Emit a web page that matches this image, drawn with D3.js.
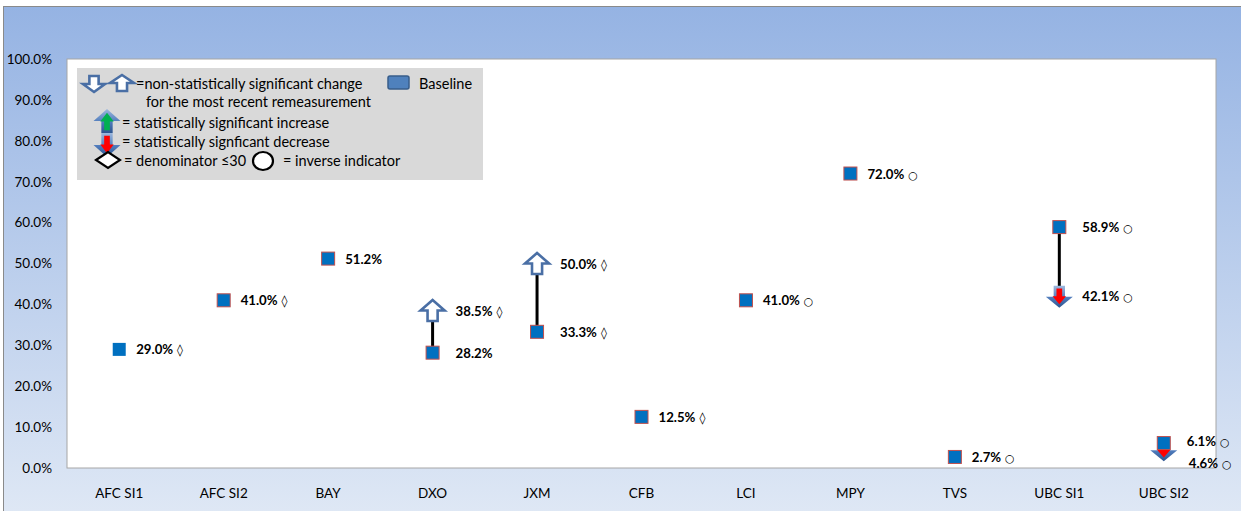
<!DOCTYPE html>
<html>
<head>
<meta charset="utf-8">
<script src="https://cdn.jsdelivr.net/npm/d3@7"></script>
<style>
  body { margin: 0; background: #fff; }
  svg { display: block; font-family: Lato, "Liberation Sans", sans-serif; }
</style>
</head>
<body>
<svg id="chart" width="1241" height="511"></svg>
<script>
// chart values
const categories = ['AFC SI1', 'AFC SI2', 'BAY', 'DXO', 'JXM', 'CFB', 'LCI', 'MPY', 'TVS', 'UBC SI1', 'UBC SI2'];
const baseline = [29.0, 41.0, 51.2, 28.2, 33.3, 12.5, 41.0, 72.0, 2.7, 58.9, 6.1];
const remeasure = [null, null, null, 38.5, 50.0, null, null, null, null, 42.1, 4.6];
const change = [null, null, null, 'ns', 'ns', null, null, null, null, 'dec', 'dec'];
const baseFlag = ['◊', '◊', '', '', '◊', '◊', '○', '○', '○', '○', '○'];
const remFlag = ['', '', '', '◊', '◊', '', '', '', '', '○', '○'];
const yTicks = [0, 10, 20, 30, 40, 50, 60, 70, 80, 90, 100];

const width = 1241;
const height = 511;
const plot = {left: 67, right: 1216, top: 59, bottom: 468};

const svg = d3.select('#chart');
const defs = svg.append('defs');

let bg = defs.append('linearGradient').attr('id', 'bg')
             .attr('x1', 0).attr('y1', 0).attr('x2', 0).attr('y2', 1);
bg.append('stop').attr('offset', '0%').attr('stop-color', '#95b3e3');
bg.append('stop').attr('offset', '100%').attr('stop-color', '#dfe8f5');

let blueArrow = defs.append('linearGradient').attr('id', 'blueArrow')
                    .attr('x1', 0).attr('y1', 0).attr('x2', 0).attr('y2', 1);
blueArrow.append('stop').attr('offset', '0%').attr('stop-color', '#9db8de');
blueArrow.append('stop').attr('offset', '55%').attr('stop-color', '#4f7bbb');
blueArrow.append('stop').attr('offset', '100%').attr('stop-color', '#2d5590');

svg.append('rect')
   .attr('x', 3.5).attr('y', 6.5)
   .attr('width', width).attr('height', height)
   .attr('fill', 'url(#bg)')
   .attr('stroke', '#8a8a8a');

svg.append('rect')
   .attr('x', plot.left).attr('y', plot.top)
   .attr('width', plot.right - plot.left).attr('height', plot.bottom - plot.top)
   .attr('fill', '#fff')
   .attr('stroke', '#a6a6a6')
   .attr('stroke-width', 1);

const x = d3.scaleBand().domain(categories).range([plot.left, plot.right]);
const y = d3.scaleLinear().domain([0, 100]).range([plot.bottom, plot.top]);
const cx = function(i){ return x(categories[i]) + x.bandwidth() / 2; };

// axes
let yAxis = svg.append('g')
               .attr('transform', 'translate(' + plot.left + ',0)')
               .call(d3.axisLeft(y).tickValues(yTicks).tickSize(0).tickPadding(15)
                       .tickFormat(function(d){ return d.toFixed(1) + '%'; }));
yAxis.select('.domain').remove();
yAxis.selectAll('text').attr('font-family', 'Lato').attr('font-size', 13.5).attr('fill', '#000');

let xAxis = svg.append('g')
               .attr('transform', 'translate(0,' + plot.bottom + ')')
               .call(d3.axisBottom(x).tickSize(0).tickPadding(20));
xAxis.select('.domain').remove();
xAxis.selectAll('text').attr('font-family', 'Lato').attr('font-size', 13.5).attr('fill', '#000');

// block arrow path centred on (ax, ay)
function arrowPath(ax, ay, w, h, dir){
    const hh = h * 0.5, sw = w * 0.42;
    const s = dir === 'up' ? 1 : -1;
    const tip = ay - s * h / 2, base = ay + s * h / 2, neck = tip + s * hh;
    return 'M' + [
        [ax, tip], [ax + w / 2, neck], [ax + sw / 2, neck], [ax + sw / 2, base],
        [ax - sw / 2, base], [ax - sw / 2, neck], [ax - w / 2, neck]
    ].map(function(p){ return p.join(','); }).join('L') + 'Z';
}

function hollowArrow(g, ax, ay, w, h, dir){
    g.append('path').attr('d', arrowPath(ax, ay, w, h, dir))
     .attr('fill', '#fff').attr('stroke', '#4a6fa5').attr('stroke-width', 2.6)
     .attr('stroke-linejoin', 'miter');
}

function sigArrow(g, ax, ay, w, h, dir, inner){
    g.append('path').attr('d', arrowPath(ax, ay, w, h, dir))
     .attr('fill', 'url(#blueArrow)');
    const off = dir === 'up' ? 1 : -1;
    g.append('path').attr('d', arrowPath(ax, ay + off * 0.5, w * 0.5, h * 0.72, dir))
     .attr('fill', inner);
}

const idx = d3.range(categories.length);
const changed = idx.filter(function(i){ return remeasure[i] !== null; });

// connecting lines
svg.append('g').selectAll('line')
   .data(changed).enter().append('line')
   .attr('x1', cx).attr('x2', cx)
   .attr('y1', function(i){ return y(baseline[i]); })
   .attr('y2', function(i){ return y(remeasure[i]); })
   .attr('stroke', '#000').attr('stroke-width', 3);

// change arrows
let arrowG = svg.append('g');
changed.forEach(function(i){
    const dir = remeasure[i] > baseline[i] ? 'up' : 'down';
    if (change[i] === 'ns') {
        hollowArrow(arrowG, cx(i), y(remeasure[i]), 24, 21, dir);
    } else {
        sigArrow(arrowG, cx(i), y(remeasure[i]) + 1, 27, 22, dir, dir === 'up' ? '#00b050' : '#ff0000');
    }
});

// baseline squares
svg.append('g').selectAll('rect')
   .data(idx).enter().append('rect')
   .attr('x', function(i){ return cx(i) - 6.5; })
   .attr('y', function(i){ return y(baseline[i]) - 6.5; })
   .attr('width', 13).attr('height', 13)
   .attr('fill', '#0070c0')
   .attr('stroke', function(i){ return i === 0 ? 'none' : '#c0504d'; })
   .attr('stroke-width', 1);

// value labels
function addLabel(g, lx, ly, value, flag){
    let t = g.append('text').attr('x', lx).attr('y', ly)
             .attr('font-family', 'Lato').attr('font-size', 13.2).attr('fill', '#000');
    t.append('tspan').attr('font-weight', 'bold').text(value.toFixed(1) + '%');
    if (flag) {
        t.append('tspan').attr('dx', 4)
         .attr('font-size', flag === '○' ? 11 : 12)
         .attr('font-weight', flag === '○' ? 'normal' : 'bold')
         .attr('font-family', 'DejaVu Sans')
         .text(flag);
    }
}

let labelG = svg.append('g');
idx.forEach(function(i){
    const off = change[i] ? 23 : 17;
    const close = remeasure[i] !== null && Math.abs(baseline[i] - remeasure[i]) < 4;
    let by = y(baseline[i]) + 5, ry = remeasure[i] !== null ? y(remeasure[i]) + 5 : null;
    if (close) { by -= 2; ry += 14; }
    addLabel(labelG, cx(i) + off, by, baseline[i], baseFlag[i]);
    if (ry !== null) addLabel(labelG, cx(i) + off + (close ? 2 : 0), ry, remeasure[i], remFlag[i]);
});

// legend
let lg = svg.append('g').attr('font-family', 'Lato').attr('font-size', 14.5).attr('fill', '#000');
lg.append('rect').attr('x', 77).attr('y', 68).attr('width', 406).attr('height', 112).attr('fill', '#d9d9d9');

hollowArrow(lg, 94, 84, 22, 16, 'down');
hollowArrow(lg, 122, 83, 24, 16, 'up');
lg.append('text').attr('x', 136).attr('y', 89).text('=non-statistically significant change');
lg.append('text').attr('x', 146).attr('y', 107).text('for the most recent remeasurement');

lg.append('rect').attr('x', 388).attr('y', 76).attr('width', 21).attr('height', 13).attr('rx', 2)
  .attr('fill', '#4f81bd').attr('stroke', '#385d8a').attr('stroke-width', 1.5);
lg.append('text').attr('x', 419).attr('y', 89).text('Baseline');

sigArrow(lg, 107, 121, 27, 24, 'up', '#00b050');
lg.append('text').attr('x', 122).attr('y', 128).text('= statistically significant increase');
sigArrow(lg, 107, 145, 27, 24, 'down', '#ff0000');
lg.append('text').attr('x', 122).attr('y', 147).text('= statistically signficant decrease');

lg.append('path').attr('d', 'M96,160L108,152L120,160L108,168Z')
  .attr('fill', '#fff').attr('stroke', '#000').attr('stroke-width', 2.2);
lg.append('text').attr('x', 124).attr('y', 166).text('= denominator ≤30');
lg.append('ellipse').attr('cx', 263).attr('cy', 161).attr('rx', 10).attr('ry', 9)
  .attr('fill', '#fff').attr('stroke', '#000').attr('stroke-width', 2.2);
lg.append('text').attr('x', 283).attr('y', 166).text('= inverse indicator');
</script>
</body>
</html>
